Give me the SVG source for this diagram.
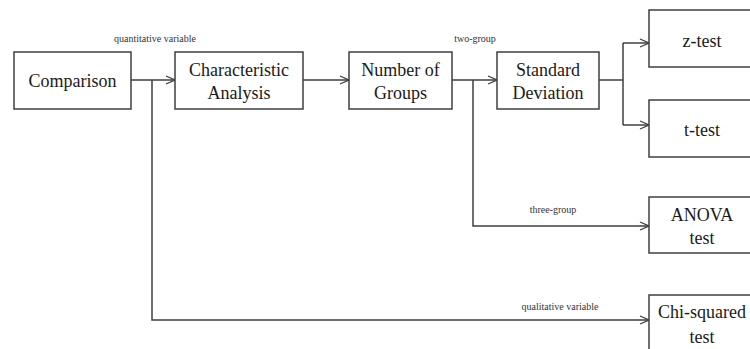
<svg xmlns="http://www.w3.org/2000/svg" width="750" height="349" viewBox="0 0 750 349">
<style>
.box{fill:#fff;stroke:#3f3f3f;stroke-width:1.5}
.t{font-family:"Liberation Serif","DejaVu Serif",serif;font-size:18px;fill:#1a1a1a;text-anchor:middle}
.lbl{font-family:"Liberation Serif","DejaVu Serif",serif;font-size:10px;fill:#333;text-anchor:middle}
.c{fill:none;stroke:#3f3f3f;stroke-width:1.5}
</style>
<defs>
<marker id="ah" viewBox="0 0 10 10" refX="10" refY="5" markerWidth="10" markerHeight="10" markerUnits="userSpaceOnUse" orient="auto">
<path d="M1,1 L10,5 L1,9" fill="none" stroke="#3f3f3f" stroke-width="1.3"/>
</marker>
</defs>
<g id="connectors">
<path class="c" d="M131,80 H175" marker-end="url(#ah)"/>
<path class="c" d="M152,80 V320 H649" marker-end="url(#ah)"/>
<path class="c" d="M303,80 H349" marker-end="url(#ah)"/>
<path class="c" d="M452,80 H497" marker-end="url(#ah)"/>
<path class="c" d="M473,80 V226 H649" marker-end="url(#ah)"/>
<path class="c" d="M599,80 H623"/>
<path class="c" d="M623,43 V125"/>
<path class="c" d="M623,43 H649" marker-end="url(#ah)"/>
<path class="c" d="M623,125 H649" marker-end="url(#ah)"/>
<text class="lbl" x="155" y="42">quantitative variable</text>
<text class="lbl" x="475" y="42">two-group</text>
<text class="lbl" x="553" y="213">three-group</text>
<text class="lbl" x="560" y="310">qualitative variable</text>
</g>
<g id="comparison"><rect class="box" x="14" y="52" width="117" height="57"/><text class="t" x="72.5" y="87">Comparison</text></g>
<g id="characteristic"><rect class="box" x="175" y="52" width="128" height="57"/><text class="t" x="239" y="76">Characteristic</text><text class="t" x="239" y="99">Analysis</text></g>
<g id="groups"><rect class="box" x="349" y="52" width="103" height="57"/><text class="t" x="400.5" y="76">Number of</text><text class="t" x="400.5" y="99">Groups</text></g>
<g id="sd"><rect class="box" x="497" y="52" width="102" height="57"/><text class="t" x="548" y="76">Standard</text><text class="t" x="548" y="99">Deviation</text></g>
<g id="ztest"><rect class="box" x="649" y="10" width="110" height="57"/><text class="t" x="702" y="47">z-test</text></g>
<g id="ttest"><rect class="box" x="649" y="100" width="110" height="57"/><text class="t" x="702" y="136">t-test</text></g>
<g id="anova"><rect class="box" x="649" y="197" width="110" height="56"/><text class="t" x="702" y="221">ANOVA</text><text class="t" x="702" y="244">test</text></g>
<g id="chi"><rect class="box" x="649" y="295" width="110" height="60"/><text class="t" x="702" y="318">Chi-squared</text><text class="t" x="702" y="343">test</text></g>
</svg>
